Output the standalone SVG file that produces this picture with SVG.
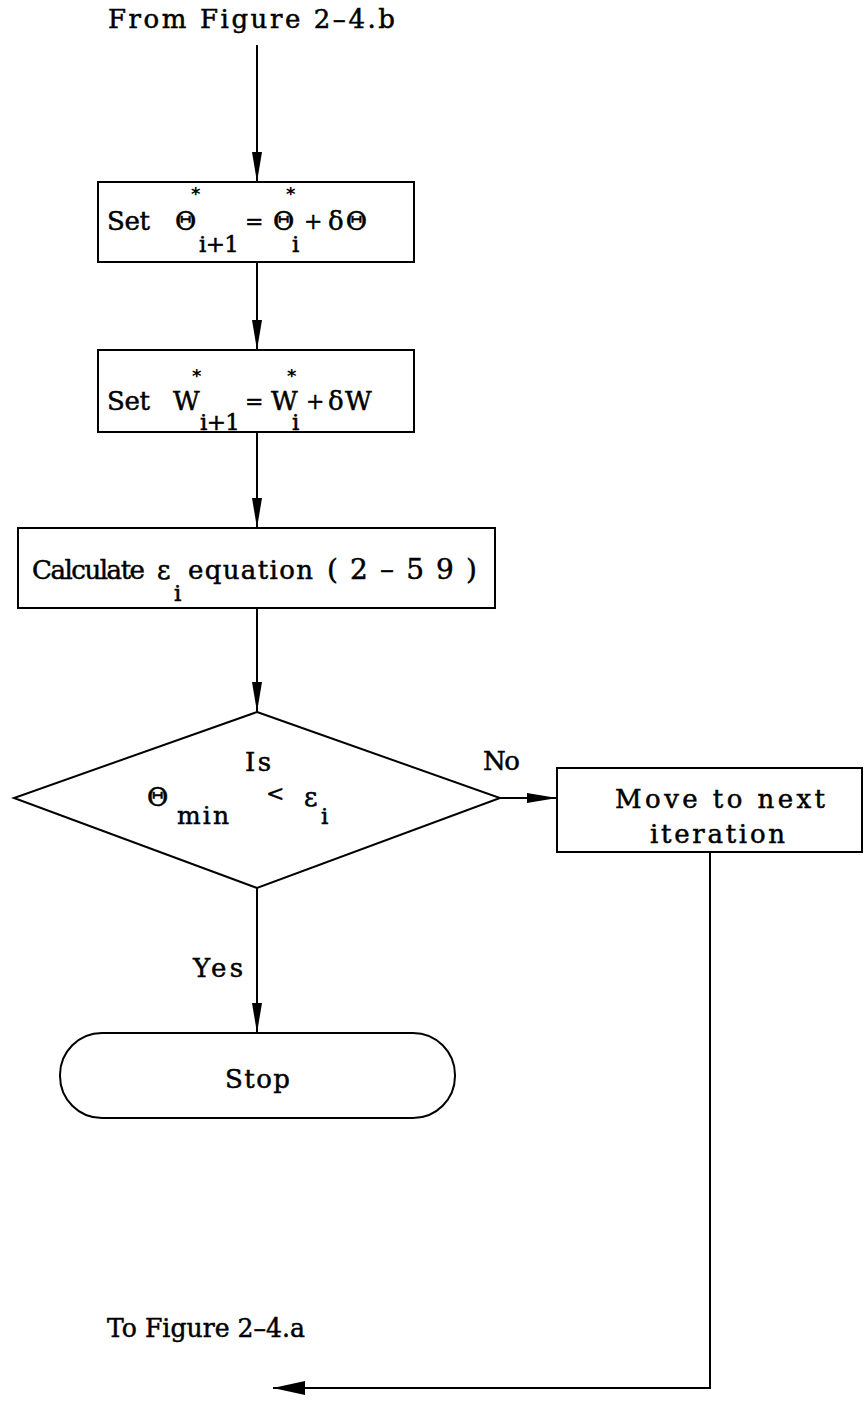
<svg xmlns="http://www.w3.org/2000/svg" width="865" height="1410" viewBox="0 0 865 1410">
<style>
.t{font-family:"DejaVu Serif","Liberation Serif",serif;font-size:26px;fill:#000;stroke:#000;stroke-width:0.5}
.s{font-family:"DejaVu Serif","Liberation Serif",serif;font-size:23px;fill:#000;stroke:#000;stroke-width:0.5}
.o{font-family:"DejaVu Serif","Liberation Serif",serif;font-size:22px;fill:#000;stroke:#000;stroke-width:0.4}
.st{font-family:"DejaVu Sans","Liberation Sans",sans-serif;font-size:18px;font-weight:bold;fill:#000}
.n{fill:#fff;stroke:#000;stroke-width:2}
.c{fill:none;stroke:#000;stroke-width:2}
</style>
<defs>
<marker id="ah" markerUnits="userSpaceOnUse" markerWidth="32" markerHeight="12" refX="30" refY="5" orient="auto">
<path d="M0,0 L30,5 L0,10 z" fill="#000"/>
</marker>
<marker id="ahb" markerUnits="userSpaceOnUse" markerWidth="34" markerHeight="16" refX="32" refY="7" orient="auto">
<path d="M0,0 L32,7 L0,14 z" fill="#000"/>
</marker>
</defs>
<g id="connectors">
<line class="c" x1="257" y1="45" x2="257" y2="182" marker-end="url(#ah)"/>
<line class="c" x1="257" y1="262" x2="257" y2="350" marker-end="url(#ah)"/>
<line class="c" x1="257" y1="432" x2="257" y2="528" marker-end="url(#ah)"/>
<line class="c" x1="257" y1="608" x2="257" y2="712" marker-end="url(#ah)"/>
<line class="c" x1="500" y1="798" x2="557" y2="798" marker-end="url(#ah)"/>
<line class="c" x1="257" y1="888" x2="257" y2="1033" marker-end="url(#ah)"/>
<polyline class="c" points="710,852 710,1388 273,1388" marker-end="url(#ahb)"/>
<text class="t" x="483" y="770" textLength="37" lengthAdjust="spacing">No</text>
<text class="t" x="193" y="977" textLength="50" lengthAdjust="spacing">Yes</text>
</g>
<g id="from"><text class="t" x="108" y="28" textLength="287" lengthAdjust="spacing">From  Figure  2–4.b</text></g>
<g id="to"><text class="t" x="107" y="1337" textLength="198" lengthAdjust="spacingAndGlyphs">To Figure 2–4.a</text></g>
<g id="box1">
<rect class="n" x="98" y="182" width="316" height="80"/>
<text class="t" x="107" y="230" textLength="43" lengthAdjust="spacing">Set</text>
<text class="t" x="175" y="230">Θ</text>
<text class="st" x="191" y="200">*</text>
<text class="s" x="199" y="252" textLength="40" lengthAdjust="spacing">i+1</text>
<text class="o" x="245" y="229">=</text>
<text class="t" x="273" y="230">Θ</text>
<text class="st" x="286" y="200">*</text>
<text class="s" x="292" y="252">i</text>
<text class="o" x="304" y="229">+</text>
<text class="t" x="328" y="230" textLength="39" lengthAdjust="spacing">δΘ</text>
</g>
<g id="box2">
<rect class="n" x="98" y="350" width="316" height="82"/>
<text class="t" x="107" y="410" textLength="43" lengthAdjust="spacing">Set</text>
<text class="t" x="173" y="410">W</text>
<text class="st" x="192" y="382">*</text>
<text class="s" x="200" y="430" textLength="40" lengthAdjust="spacing">i+1</text>
<text class="o" x="245" y="409">=</text>
<text class="t" x="271" y="410">W</text>
<text class="st" x="287" y="382">*</text>
<text class="s" x="292" y="430">i</text>
<text class="o" x="306" y="409">+</text>
<text class="t" x="328" y="410">δ</text>
<text class="t" x="345" y="410">W</text>
</g>
<g id="box3">
<rect class="n" x="18" y="528" width="477" height="80"/>
<text class="t" x="32" y="579" textLength="113" lengthAdjust="spacing">Calculate</text>
<text class="t" x="157" y="579">ε</text>
<text class="s" x="174" y="601">i</text>
<text class="t" x="188" y="579" textLength="125" lengthAdjust="spacing">equation</text>
<text class="t" x="327" y="579" style="font-size:28px" textLength="150" lengthAdjust="spacing">(2–59)</text>
</g>
<g id="decision">
<polygon class="n" points="257,712 500,798 257,888 14,798"/>
<text class="t" x="245" y="771" textLength="26" lengthAdjust="spacing">Is</text>
<text class="t" x="147" y="806">Θ</text>
<text class="s" x="177" y="824" style="font-size:25px" textLength="52" lengthAdjust="spacing">min</text>
<text class="o" x="266" y="801">&lt;</text>
<text class="t" x="304" y="806">ε</text>
<text class="s" x="321" y="824">i</text>
</g>
<g id="box4">
<rect class="n" x="557" y="768" width="305" height="84"/>
<text class="t" x="615" y="808" textLength="210" lengthAdjust="spacing">Move to next</text>
<text class="t" x="650" y="843" textLength="135" lengthAdjust="spacing">iteration</text>
</g>
<g id="stop">
<rect class="n" x="60" y="1033" width="395" height="85" rx="42" ry="42"/>
<text class="t" x="225" y="1088" textLength="65" lengthAdjust="spacing">Stop</text>
</g>
</svg>
